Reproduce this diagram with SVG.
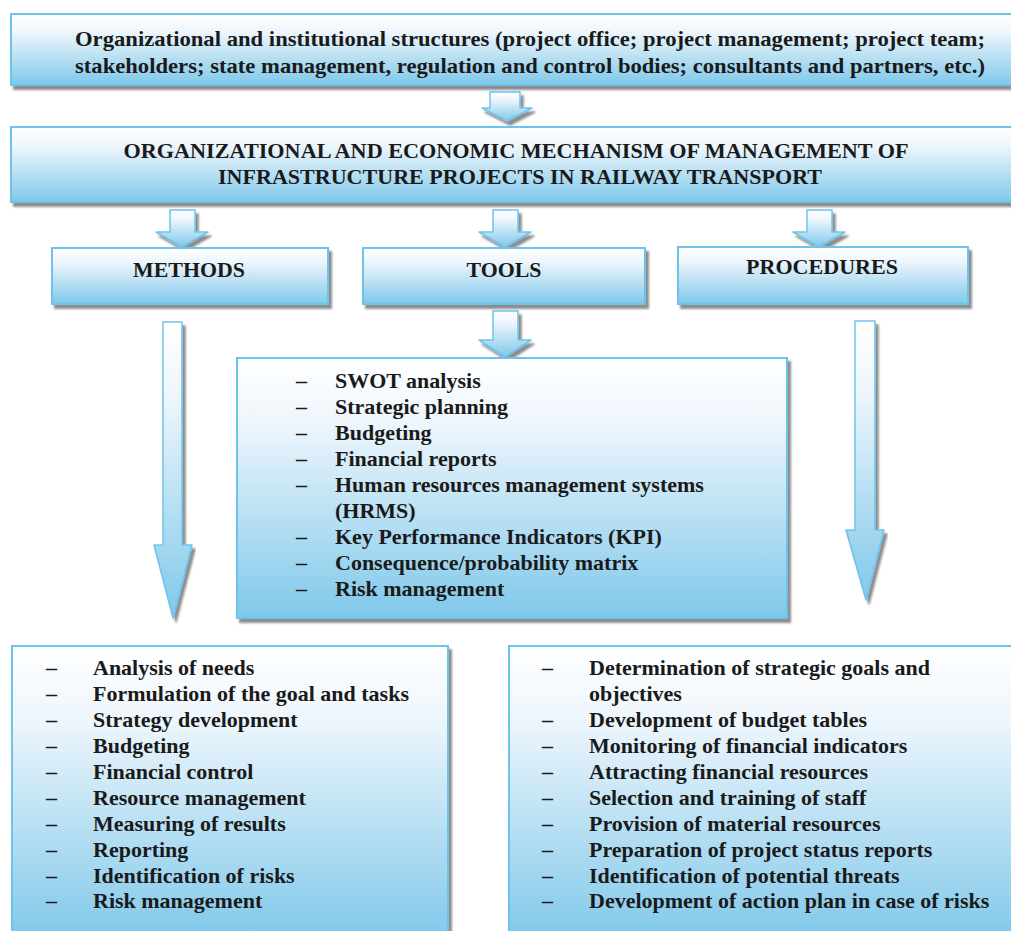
<svg xmlns="http://www.w3.org/2000/svg" width="1011" height="931" viewBox="0 0 1011 931" font-family="'Liberation Serif','Times New Roman',serif">
<defs>
<linearGradient id="g" x1="0" y1="0" x2="0" y2="1">
<stop offset="0" stop-color="#ffffff"/>
<stop offset="0.25" stop-color="#eef6fc"/>
<stop offset="1" stop-color="#7fc8ea"/>
</linearGradient>
<filter id="sh" x="-10%" y="-10%" width="120%" height="130%">
<feGaussianBlur in="SourceAlpha" stdDeviation="1"/>
<feOffset dx="3" dy="4" result="o"/>
<feComponentTransfer><feFuncA type="linear" slope="0.45"/></feComponentTransfer>
<feMerge><feMergeNode/><feMergeNode in="SourceGraphic"/></feMerge>
</filter>
</defs>
<style>
.box{fill:url(#g);stroke:#6ec3ec;stroke-width:2;filter:url(#sh)}
.arr{fill:url(#g);stroke:#6ec3ec;stroke-width:1.5;stroke-linejoin:round;filter:url(#sh)}
text{font-family:"Liberation Serif","Times New Roman",serif;font-weight:bold;fill:#1a1a1a}
.h{font-size:21px}
.l{font-size:22px}
.c{text-anchor:middle}
</style>
<rect width="1011" height="931" fill="#ffffff"/>

<g id="connectors">
<path class="arr" d="M490,92 H520 V108 H532 L507,121 L482,108 H490 Z"/>
<path class="arr" d="M170,210 H195 V232 H208 L182,247 L156,232 H170 Z"/>
<path class="arr" d="M493,210 H518 V232 H531 L505,247 L479,232 H493 Z"/>
<path class="arr" d="M807,210 H832 V232 H845 L819,247 L793,232 H807 Z"/>
<path class="arr" d="M493,311 H518 V340 H531 L505,357 L479,340 H493 Z"/>
<path class="arr" d="M163,322 H182 V545 H192 L173,618 L154,545 H163 Z"/>
<path class="arr" d="M855,321 H875 V530 H884 L866,600 L846,530 H855 Z"/>
</g>

<g id="node-structures">
<rect class="box" x="11" y="14" width="1010" height="71"/>
<text class="h c" x="530" y="46" textLength="910" lengthAdjust="spacingAndGlyphs">Organizational and institutional structures (project office; project management; project team;</text>
<text class="h c" x="530" y="73" textLength="910" lengthAdjust="spacingAndGlyphs">stakeholders; state management, regulation and control bodies; consultants and partners, etc.)</text>
</g>

<g id="node-mechanism">
<rect class="box" x="11" y="127" width="1010" height="75"/>
<text class="h c" x="516" y="158" textLength="785" lengthAdjust="spacingAndGlyphs">ORGANIZATIONAL AND ECONOMIC MECHANISM OF MANAGEMENT OF</text>
<text class="h c" x="520" y="184" textLength="604" lengthAdjust="spacingAndGlyphs">INFRASTRUCTURE PROJECTS IN RAILWAY TRANSPORT</text>
</g>

<g id="node-methods">
<rect class="box" x="52" y="248" width="276" height="56"/>
<text class="h c" x="189" y="277" textLength="112" lengthAdjust="spacingAndGlyphs">METHODS</text>
</g>

<g id="node-tools">
<rect class="box" x="363" y="248" width="282" height="56"/>
<text class="h c" x="504" y="277" textLength="75" lengthAdjust="spacingAndGlyphs">TOOLS</text>
</g>

<g id="node-procedures">
<rect class="box" x="678" y="247" width="290" height="57"/>
<text class="h c" x="822" y="274" textLength="152" lengthAdjust="spacingAndGlyphs">PROCEDURES</text>
</g>

<g id="node-tools-list">
<rect class="box" x="237" y="358" width="550" height="260"/>
<g class="l">
<text x="296" y="388">–</text><text x="335" y="388">SWOT analysis</text>
<text x="296" y="414">–</text><text x="335" y="414">Strategic planning</text>
<text x="296" y="440">–</text><text x="335" y="440">Budgeting</text>
<text x="296" y="466">–</text><text x="335" y="466">Financial reports</text>
<text x="296" y="492">–</text><text x="335" y="492">Human resources management systems</text>
<text x="335" y="518">(HRMS)</text>
<text x="296" y="544">–</text><text x="335" y="544">Key Performance Indicators (KPI)</text>
<text x="296" y="570">–</text><text x="335" y="570">Consequence/probability matrix</text>
<text x="296" y="596">–</text><text x="335" y="596">Risk management</text>
</g>
</g>

<g id="node-methods-list">
<rect class="box" x="12" y="646" width="436" height="295"/>
<g class="l">
<text x="46" y="675">–</text><text x="93" y="675">Analysis of needs</text>
<text x="46" y="701">–</text><text x="93" y="701">Formulation of the goal and tasks</text>
<text x="46" y="727">–</text><text x="93" y="727">Strategy development</text>
<text x="46" y="753">–</text><text x="93" y="753">Budgeting</text>
<text x="46" y="779">–</text><text x="93" y="779">Financial control</text>
<text x="46" y="805">–</text><text x="93" y="805">Resource management</text>
<text x="46" y="831">–</text><text x="93" y="831">Measuring of results</text>
<text x="46" y="857">–</text><text x="93" y="857">Reporting</text>
<text x="46" y="883">–</text><text x="93" y="883">Identification of risks</text>
<text x="46" y="908">–</text><text x="93" y="908">Risk management</text>
</g>
</g>

<g id="node-procedures-list">
<rect class="box" x="509" y="646" width="512" height="295"/>
<g class="l">
<text x="542" y="675">–</text><text x="589" y="675">Determination of strategic goals and</text>
<text x="589" y="701">objectives</text>
<text x="542" y="727">–</text><text x="589" y="727">Development of budget tables</text>
<text x="542" y="753">–</text><text x="589" y="753">Monitoring of financial indicators</text>
<text x="542" y="779">–</text><text x="589" y="779">Attracting financial resources</text>
<text x="542" y="805">–</text><text x="589" y="805">Selection and training of staff</text>
<text x="542" y="831">–</text><text x="589" y="831">Provision of material resources</text>
<text x="542" y="857">–</text><text x="589" y="857">Preparation of project status reports</text>
<text x="542" y="883">–</text><text x="589" y="883">Identification of potential threats</text>
<text x="542" y="908">–</text><text x="589" y="908">Development of action plan in case of risks</text>
</g>
</g>
</svg>
